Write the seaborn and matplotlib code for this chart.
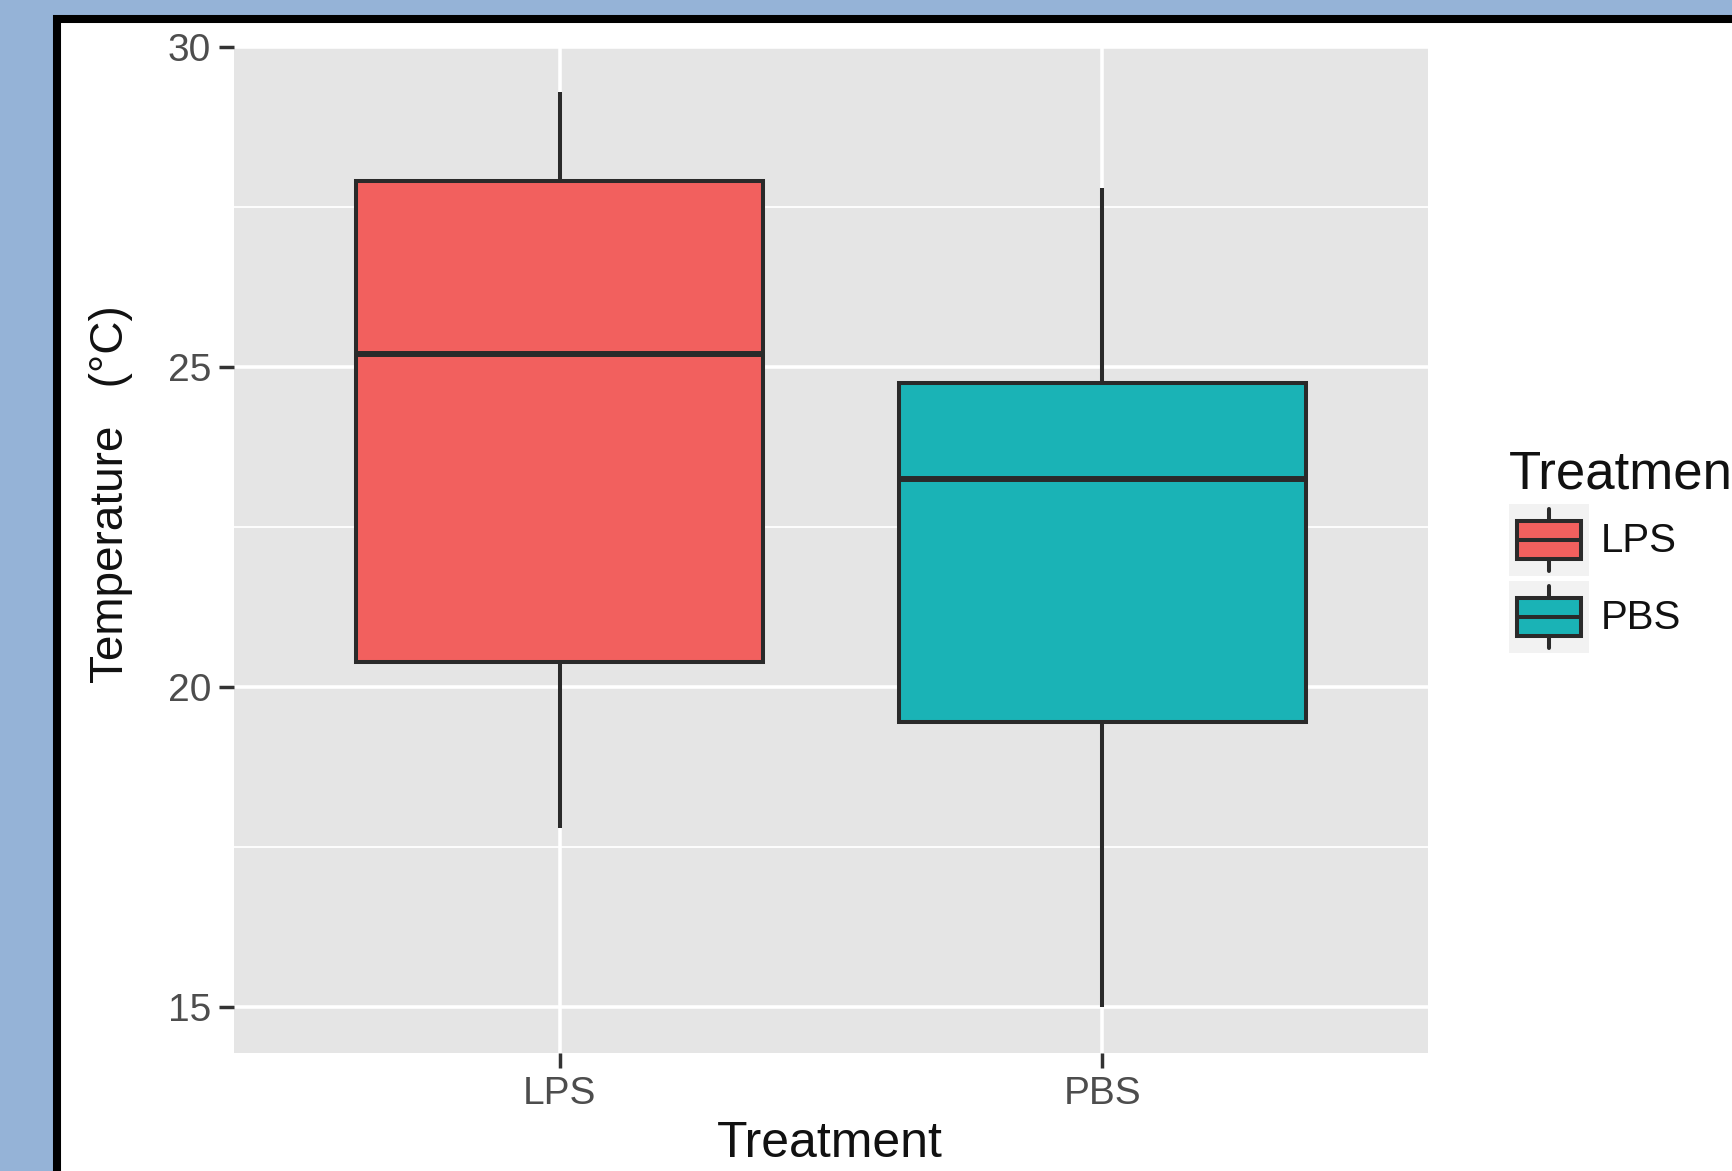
import matplotlib
matplotlib.use("Agg")
import matplotlib.pyplot as plt
from matplotlib.patches import Rectangle, Patch
from matplotlib.lines import Line2D
from matplotlib.legend_handler import HandlerBase
from matplotlib.ticker import FixedLocator
import pandas as pd
import seaborn as sns

# five-number summaries (min, q1, median, q3, max)
treatments = ["LPS", "PBS"]
lps_temp = [17.8, 20.4, 25.2, 27.9, 29.3]
pbs_temp = [15.0, 19.45, 23.25, 24.75, 27.8]
box_colors = ["#F2605E", "#1AB3B6"]
y_ticks = [15, 20, 25, 30]
y_minor = [17.5, 22.5, 27.5]

df = pd.DataFrame({
    "Treatment": ["LPS"] * len(lps_temp) + ["PBS"] * len(pbs_temp),
    "Temperature": lps_temp + pbs_temp,
})

EDGE = "#2a2a2a"
W, H = 1733, 1171

sns.set_style("darkgrid")
plt.rcParams["font.family"] = ["Liberation Sans", "DejaVu Sans"]
plt.rcParams["text.color"] = "#111111"

fig = plt.figure(figsize=(W / 100, H / 100), dpi=100)
fig.patch.set_facecolor("#95B3D7")

# white slide panel with thick black frame (behind the axes)
fig.patches.append(Rectangle((57 / W, -0.1), 1.2, (1 - 19 / H) + 0.1,
                             transform=fig.transFigure, facecolor="white",
                             edgecolor="black", linewidth=5.8, zorder=-10))

ax = fig.add_axes([234 / W, 1 - 1053 / H, (1428 - 234) / W, (1053 - 47) / H])
ax.set_facecolor("#E5E5E5")

sns.boxplot(data=df, x="Treatment", y="Temperature", hue="Treatment",
            order=treatments, hue_order=treatments, palette=box_colors,
            width=0.75, saturation=1, linecolor=EDGE, linewidth=2.9,
            showcaps=False, medianprops={"linewidth": 4.3}, legend=False, ax=ax)

ax.set_xlim(-0.6, 1.6)
ax.set_ylim(14.285, 30.0)
ax.set_yticks(y_ticks)
ax.yaxis.set_minor_locator(FixedLocator(y_minor))
ax.set_axisbelow(True)
ax.grid(False)
ax.grid(which="major", color="white", linewidth=2.6)
ax.grid(which="minor", axis="y", color="white", linewidth=1.3)
for s in ax.spines.values():
    s.set_visible(False)
ax.tick_params(which="major", bottom=True, left=True, length=10.5, width=2.5,
               color="#333333", labelsize=28, labelcolor="#4D4D4D", pad=6)
ax.tick_params(which="minor", length=0)
ax.set_xlabel("")
ax.set_ylabel("")

fig.text(111 / W, 1 - 494 / H, "Temperature   (°C)", rotation=90,
         ha="center", va="center", fontsize=33)
fig.text(830 / W, 1 - 1157 / H, "Treatment", ha="center", va="baseline",
         fontsize=36)


class BoxKeyHandler(HandlerBase):
    def create_artists(self, legend, orig_handle, xdescent, ydescent,
                       width, height, fontsize, trans):
        x0, y0 = -xdescent, -ydescent
        xc, yc = x0 + width / 2, y0 + height / 2
        bg = Rectangle((x0, y0), width, height, facecolor="#F2F2F2",
                       edgecolor="none", transform=trans)
        whisk = Line2D([xc, xc], [y0 + 0.07 * height, y0 + 0.93 * height],
                       color=EDGE, lw=2.9, transform=trans)
        box = Rectangle((x0 + 0.1 * width, yc - 0.27 * height), 0.8 * width,
                        0.54 * height, facecolor=orig_handle.get_facecolor(),
                        edgecolor=EDGE, lw=2.9, transform=trans)
        med = Line2D([x0 + 0.1 * width, x0 + 0.9 * width], [yc, yc],
                     color=EDGE, lw=2.9, transform=trans)
        return [bg, whisk, box, med]


handles = [Patch(facecolor=c) for c in box_colors]
fig.legend(handles, treatments, title="Treatment", loc="upper left",
           bbox_to_anchor=(1509 / W, 1 - 449 / H), bbox_transform=fig.transFigure,
           frameon=False, borderpad=0, borderaxespad=0, fontsize=29,
           title_fontsize=38, handlelength=57.6 / 29, handleheight=2.36,
           labelspacing=0.13, handletextpad=0.3, alignment="left",
           handler_map={Patch: BoxKeyHandler()})

fig.savefig("out.png", dpi=100, facecolor=fig.get_facecolor())
